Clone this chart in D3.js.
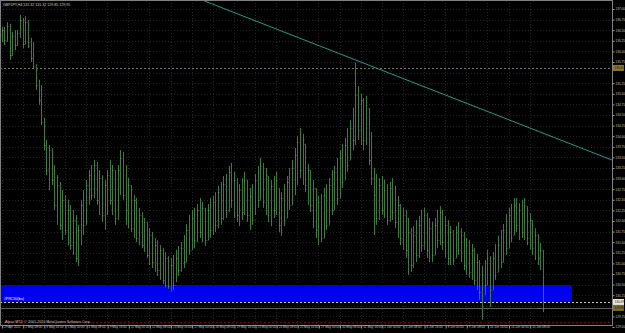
<!DOCTYPE html>
<html><head><meta charset="utf-8">
<script src="https://cdn.jsdelivr.net/npm/d3@7"></script>
<style>html,body{margin:0;padding:0;background:#000;overflow:hidden}svg{display:block}</style>
</head><body>
<svg id="c" width="625" height="333"></svg>
<script>
const symbol = "GBPJPY,H4";
const openP = [136.39,136.50,136.27,136.60,135.92,136.36,136.15,136.43,136.74,136.17,136.69,136.22,135.84,135.66,135.21,134.85,134.34,133.79,133.20,133.67,132.97,132.38,132.85,131.91,132.50,131.79,132.26,131.43,132.02,131.13,131.79,132.38,131.91,132.85,133.08,132.61,133.32,132.50,133.01,132.14,132.85,133.08,132.50,133.20,132.07,133.20,133.49,132.61,132.26,132.85,131.83,132.50,131.60,132.14,131.43,131.98,131.20,131.67,131.03,131.43,130.84,131.32,130.61,131.13,130.47,130.96,130.49,131.13,130.84,131.36,131.03,131.79,131.32,132.07,131.55,132.26,131.74,132.31,131.55,132.26,131.79,132.45,131.91,132.68,132.07,132.87,132.26,133.16,132.50,132.97,132.14,132.73,132.21,132.97,132.14,132.59,132.02,132.97,132.50,133.30,132.45,133.06,132.14,132.83,132.26,132.78,131.91,132.54,132.07,132.92,132.38,133.25,133.56,133.86,133.20,133.82,132.85,133.20,132.38,132.78,131.79,132.45,131.60,132.61,131.91,132.85,132.26,133.16,132.54,133.49,132.97,133.79,133.44,134.19,133.91,134.97,134.15,134.85,133.91,134.66,133.44,133.01,132.61,132.07,132.85,132.26,132.73,132.02,132.78,132.21,131.98,132.38,131.60,132.14,131.32,131.74,130.96,131.67,131.20,131.91,131.43,132.14,131.32,131.83,131.20,131.91,131.55,132.21,131.50,131.91,131.13,131.74,131.13,131.74,131.32,131.67,130.96,131.43,130.80,131.32,130.61,131.03,130.33,130.73,130.49,131.08,130.37,131.13,130.80,131.43,131.03,131.79,131.36,132.14,131.67,132.38,131.91,132.26,131.74,132.35,131.60,132.02,131.36,131.67,131.13,131.32];
const highP = [136.58,136.58,136.69,136.65,136.46,136.50,136.50,136.86,136.79,136.83,136.74,136.32,136.22,135.70,135.33,135.21,134.43,133.91,133.79,133.72,133.32,133.08,132.92,132.73,132.61,132.50,132.38,132.26,132.14,131.91,132.50,132.73,132.97,133.20,133.32,133.44,133.39,133.20,133.08,132.97,133.20,133.44,133.32,133.20,133.32,133.67,133.63,133.32,133.01,132.85,132.61,132.54,132.31,132.21,132.07,131.98,131.83,131.74,131.60,131.55,131.43,131.36,131.27,131.17,131.13,131.20,131.32,131.41,131.50,131.67,131.93,132.14,132.26,132.31,132.40,132.54,132.45,132.31,132.40,132.54,132.59,132.68,132.83,132.92,133.06,133.11,133.30,133.37,133.16,133.01,132.87,133.01,133.16,132.97,132.78,132.87,133.11,133.30,133.49,133.37,133.25,133.06,132.97,133.06,133.16,132.78,132.68,132.87,133.06,133.25,133.44,133.72,134.00,134.19,134.05,133.82,133.34,133.20,132.97,132.78,132.59,132.64,132.78,132.87,133.01,133.20,133.30,133.49,133.67,133.82,133.96,134.19,134.38,134.67,135.73,135.18,135.00,134.90,134.95,134.66,134.10,133.25,133.11,133.01,133.06,132.97,132.87,132.92,133.01,132.83,132.59,132.40,132.31,132.26,132.07,131.83,131.88,132.02,132.12,132.26,132.31,132.19,132.07,131.98,132.07,132.26,132.35,132.26,132.12,132.02,131.88,131.79,131.88,131.98,131.83,131.74,131.60,131.55,131.46,131.36,131.22,131.08,130.94,131.08,131.32,131.17,131.27,131.46,131.65,131.79,131.93,132.17,132.31,132.40,132.54,132.54,132.42,132.50,132.54,132.35,132.19,132.02,131.83,131.69,131.48,131.32];
const lowP = [136.22,136.15,136.22,135.80,135.89,136.03,136.13,136.32,136.08,136.17,136.08,135.75,135.61,135.09,134.74,134.26,133.67,133.08,132.73,132.85,132.26,131.91,131.79,131.55,131.67,131.43,131.32,131.20,131.03,130.94,131.43,131.67,131.91,132.38,132.50,132.54,132.38,132.14,131.98,131.79,132.14,132.38,132.14,131.91,132.02,132.61,132.50,131.91,131.83,131.74,131.60,131.50,131.43,131.36,131.27,131.13,130.96,130.89,130.80,130.70,130.61,130.51,130.44,130.40,130.33,130.37,130.56,130.70,130.80,130.89,131.03,131.20,131.32,131.36,131.50,131.60,131.50,131.41,131.55,131.60,131.67,131.74,131.83,131.91,132.02,132.07,132.21,132.31,132.07,131.98,131.88,132.02,132.14,131.98,131.79,131.91,132.14,132.31,132.50,132.31,132.14,131.98,131.88,132.07,132.14,131.74,131.65,131.88,132.07,132.26,132.38,132.61,132.85,133.01,132.85,132.68,132.38,132.21,131.83,131.60,131.43,131.50,131.60,131.79,131.91,132.14,132.26,132.38,132.54,132.78,132.97,133.16,133.44,133.67,133.79,133.91,133.79,133.67,133.79,133.32,132.85,131.67,131.91,132.02,132.14,132.07,131.91,131.98,132.02,131.83,131.60,131.43,131.32,131.13,130.73,130.80,130.89,131.03,131.13,131.27,131.32,131.13,131.03,131.03,131.20,131.36,131.43,131.32,131.13,130.96,130.96,130.96,131.13,131.20,131.03,130.84,130.73,130.66,130.61,130.49,130.37,130.14,129.67,130.25,130.49,129.97,130.37,130.61,130.80,130.89,131.03,131.20,131.36,131.50,131.67,131.74,131.55,131.60,131.55,131.43,131.32,131.20,131.08,130.96,130.84,129.85];
const closeP = [136.50,136.27,136.60,135.92,136.36,136.15,136.43,136.74,136.17,136.69,136.22,135.84,135.66,135.21,134.85,134.34,133.79,133.20,133.67,132.97,132.38,132.85,131.91,132.50,131.79,132.26,131.43,132.02,131.13,131.79,132.38,131.91,132.85,133.08,132.61,133.32,132.50,133.01,132.14,132.85,133.08,132.50,133.20,132.07,133.20,133.49,132.61,132.26,132.85,131.83,132.50,131.60,132.14,131.43,131.98,131.20,131.67,131.03,131.43,130.84,131.32,130.61,131.13,130.47,130.96,130.49,131.13,130.84,131.36,131.03,131.79,131.32,132.07,131.55,132.26,131.74,132.31,131.55,132.26,131.79,132.45,131.91,132.68,132.07,132.87,132.26,133.16,132.50,132.97,132.14,132.73,132.21,132.97,132.14,132.59,132.02,132.97,132.50,133.30,132.45,133.08,132.14,132.83,132.26,132.97,131.91,132.54,132.02,132.92,132.38,133.25,133.56,133.86,133.20,133.91,132.85,133.20,132.38,132.78,131.79,132.45,131.60,132.61,131.91,132.85,132.26,133.16,132.54,133.49,132.92,133.79,133.32,134.19,133.91,134.97,134.15,134.85,133.91,134.74,133.44,133.01,132.61,132.07,132.85,132.26,132.73,132.02,132.78,132.21,131.98,132.38,131.60,132.14,131.32,131.74,130.96,131.67,131.20,131.91,131.43,132.14,131.32,131.83,131.20,131.91,131.55,132.21,131.50,131.91,131.13,131.74,131.08,131.74,131.32,131.67,130.96,131.43,130.80,131.32,130.61,131.03,130.33,130.73,130.49,131.13,130.37,131.13,130.73,131.43,131.03,131.79,131.36,132.14,131.60,132.38,131.91,132.26,131.74,132.38,131.60,132.02,131.36,131.67,131.13,131.32,129.95];
const dateLabels = ["29 Apr 2011","2 May 08:00","3 May 16:00","5 May 00:00","6 May 08:00","9 May 16:00","11 May 00:00","12 May 08:00","13 May 16:00","17 May 00:00","18 May 08:00","19 May 16:00","23 May 00:00","24 May 08:00","25 May 16:00","27 May 00:00","30 May 08:00","31 May 16:00","2 Jun 00:00","3 Jun 08:00","6 Jun 16:00","8 Jun 00:00","9 Jun 08:00","10 Jun 16:00","14 Jun 00:00","15 Jun 08:00"];
const barsPerLabel = 8;
const priceTicks = [137.00,136.75,136.50,136.25,136.00,135.75,135.50,135.25,135.00,134.75,134.50,134.25,134.00,133.75,133.50,133.25,133.00,132.75,132.50,132.25,132.00,131.75,131.50,131.25,131.00,130.75,130.50,130.25,130.00,129.75,129.50];
const trendBars = [76, 134];
const trendPrices = [137.21, 135.80];
const hLinePrice = 135.61;
const rectPrices = [130.49, 130.09];
const rectEndBar = 216;
const rectName = "#PRC90(bu)";
const whiteLinePrice = 130.09;
const redLinePrice = 129.62;
const copyright = "Alpari MT4, \u00a9 2001-2010 MetaQuotes Software Corp.";

const svg = d3.select("#c");
const PW = 612, PH = 325;
const nBars = closeP.length;
const FONT = "Liberation Sans, Arial";
const FS = 3.1;
const x = d3.scaleLinear().domain([-0.6, 231.2]).range([0, PW]);
const y = d3.scaleLinear().domain([129.547, 137.212]).range([PH, 0]);

svg.append("rect").attr("width",625).attr("height",333).attr("fill","#000");
svg.append("defs").append("clipPath").attr("id","clip")
  .append("rect").attr("x",0).attr("y",0).attr("width",PW).attr("height",PH);
const plot = svg.append("g").attr("clip-path","url(#clip)");

// grid
const labelBars = dateLabels.map((d,i)=>i*barsPerLabel);
plot.selectAll(".gh").data(priceTicks).join("line")
  .attr("x1",0).attr("x2",PW).attr("y1",d=>Math.round(y(d))+0.5).attr("y2",d=>Math.round(y(d))+0.5)
  .attr("stroke","#222").attr("stroke-dasharray","1,2");
plot.selectAll(".gv").data(labelBars).join("line")
  .attr("y1",0).attr("y2",PH).attr("x1",d=>Math.round(x(d))+0.5).attr("x2",d=>Math.round(x(d))+0.5)
  .attr("stroke","#222").attr("stroke-dasharray","1,2");

// blue rectangle
plot.append("rect").attr("x",0).attr("width",x(rectEndBar))
  .attr("y",y(rectPrices[0])).attr("height",y(rectPrices[1])-y(rectPrices[0]))
  .attr("fill","#0000f0");
plot.append("text").attr("x",4).attr("y",y(rectPrices[1])-2).text(rectName)
  .attr("fill","#fff").attr("font-family",FONT).attr("font-size",3.6);

// horizontal lines
function hline(p, color, dash){
  plot.append("line").attr("x1",0).attr("x2",PW)
    .attr("y1",Math.round(y(p))+0.5).attr("y2",Math.round(y(p))+0.5)
    .attr("stroke",color).attr("stroke-dasharray",dash||null);
}
hline(hLinePrice, "#7a7a62", "2,2");
hline(whiteLinePrice, "#c8c8c8", "2,2");
hline(closeP[nBars-1], "#5e5e50", null);
hline(redLinePrice, "#7a0000", "2,2");

// trend line extended to right edge
const slope = (trendPrices[1]-trendPrices[0])/(trendBars[1]-trendBars[0]);
const endBar = x.domain()[1];
plot.append("line")
  .attr("x1",x(trendBars[0])).attr("y1",y(trendPrices[0]))
  .attr("x2",x(endBar)).attr("y2",y(trendPrices[0]+slope*(endBar-trendBars[0])))
  .attr("stroke","#1e9c8a").attr("stroke-width",1);

// OHLC bars
const bars = d3.range(nBars).map(i=>({i,o:openP[i],h:highP[i],l:lowP[i],c:closeP[i]}));
const bg = plot.append("g").attr("stroke","#3a7d3a").attr("stroke-width",1);
bg.selectAll(".hl").data(bars).join("line")
  .attr("x1",d=>Math.round(x(d.i))+0.5).attr("x2",d=>Math.round(x(d.i))+0.5)
  .attr("y1",d=>y(d.h)).attr("y2",d=>y(d.l));
bg.selectAll(".op").data(bars).join("line")
  .attr("stroke","#2a5a2a")
  .attr("x1",d=>Math.round(x(d.i))-0.5).attr("x2",d=>Math.round(x(d.i))+0.5)
  .attr("y1",d=>Math.round(y(d.o))+0.5).attr("y2",d=>Math.round(y(d.o))+0.5);
bg.selectAll(".cl").data(bars).join("line")
  .attr("stroke","#6fa86f")
  .attr("x1",d=>Math.round(x(d.i))+0.5).attr("x2",d=>Math.round(x(d.i))+1.2)
  .attr("y1",d=>Math.round(y(d.c))+0.5).attr("y2",d=>Math.round(y(d.c))+0.5);

// header
const last = bars[nBars-1];
svg.append("text").attr("x",3).attr("y",5.5)
  .text(`${symbol} ${last.o.toFixed(2)} ${last.h.toFixed(2)} ${last.l.toFixed(2)} ${last.c.toFixed(2)}`)
  .attr("fill","#d0d0d0").attr("font-family",FONT).attr("font-size",3.6);
// copyright
svg.append("text").attr("x",5).attr("y",322.5)
  .text(copyright).attr("fill","#c8c8c8").attr("font-family",FONT).attr("font-size",3.6);

// frame
svg.append("rect").attr("x",0.5).attr("y",0.5).attr("width",PW).attr("height",PH)
  .attr("fill","none").attr("stroke","#808080");

// highlighted price boxes and price axis
const boxes = [[hLinePrice,"#8c7a28"],[whiteLinePrice,"#e8e8e8"],[closeP[nBars-1],"#7c7028"]];
const shownTicks = priceTicks.filter(t=>boxes.every(b=>Math.abs(y(t)-y(b[0]))>5));
const ya = svg.append("g").attr("transform",`translate(${PW+0.5},0)`)
  .call(d3.axisRight(y).tickValues(shownTicks).tickFormat(d3.format(".2f")).tickSize(2).tickPadding(1));
ya.select(".domain").remove();
ya.selectAll("line").attr("stroke","#a0a0a0");
ya.selectAll("text").attr("fill","#c0c0c0").attr("font-family",FONT).attr("font-size",FS);

boxes.forEach(([p,fill])=>{
  const g = svg.append("g");
  g.append("rect").attr("x",PW+1).attr("y",y(p)-3).attr("width",11).attr("height",6).attr("fill",fill);
  g.append("text").attr("x",PW+2.5).attr("y",y(p)+1.2).text(p.toFixed(2)).attr("fill","#111")
    .attr("font-family",FONT).attr("font-size",FS);
});

// date axis
const xa = svg.append("g").attr("transform",`translate(0,${PH+0.5})`)
  .call(d3.axisBottom(x).tickValues(labelBars).tickFormat((d,i)=>dateLabels[i]).tickSize(3).tickPadding(0.5));
xa.select(".domain").remove();
xa.selectAll("line").attr("stroke","#a0a0a0").attr("transform","translate(0.5,0)");
xa.selectAll("text").attr("fill","#c0c0c0").attr("font-family",FONT)
  .attr("font-size",FS).attr("text-anchor","start").attr("dx",2).attr("dy",-1.5);
</script>
</body></html>
